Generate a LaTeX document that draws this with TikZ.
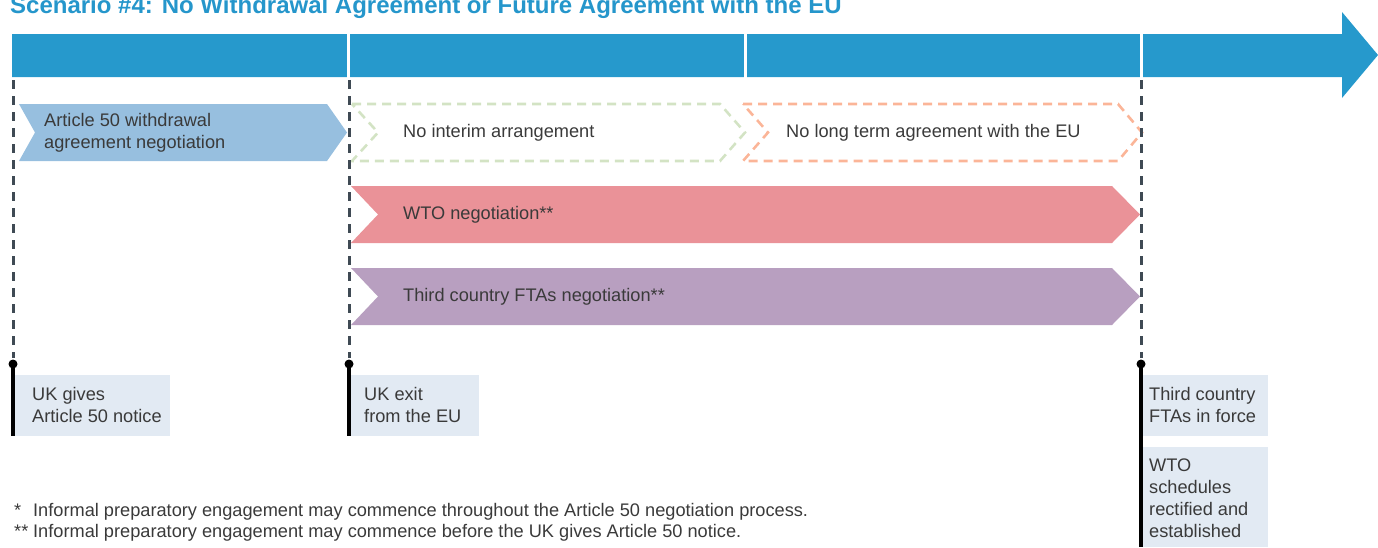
\documentclass[tikz,border=0pt]{standalone}
\usepackage{fontspec}
\setmainfont{Liberation Sans}
\definecolor{barblue}{HTML}{2699CC}
\definecolor{titleblue}{HTML}{2596CB}
\definecolor{artblue}{HTML}{97BFDF}
\definecolor{dgreen}{HTML}{D3E3C4}
\definecolor{dorange}{HTML}{FBB598}
\definecolor{wtopink}{HTML}{EA9298}
\definecolor{ftapurple}{HTML}{B89FC0}
\definecolor{lblfill}{HTML}{E2EAF3}
\definecolor{txtgray}{HTML}{3A3A3A}
\definecolor{vline}{HTML}{3F4A54}
\begin{document}
\begin{tikzpicture}[x=1pt,y=-1pt,
  txt/.style={font=\fontsize{18.2}{22}\selectfont, text=txtgray, inner sep=0pt, align=left, anchor=west},
  foot/.style={font=\fontsize{18.2}{21}\selectfont, text=txtgray, inner sep=0pt, anchor=base west},
  vdash/.style={draw=vline, line width=3pt, dash pattern=on 9pt off 7pt},
  vsolid/.style={draw=black, line width=3.5pt},
  chevdash/.style={line width=2.6pt, dash pattern=on 9pt off 6pt},
  lblbox/.style={fill=lblfill},
]
\useasboundingbox (0,0) rectangle (1378,547);

% title
\node[anchor=base west, inner sep=0pt, font=\bfseries\fontsize{24}{28}\selectfont, text=titleblue] (title) at (10,13)
  {Scenario \#4: No Withdrawal Agreement or Future Agreement with the EU};

% timeline arrow
\fill[barblue] (12,34) -- (1342,34) -- (1342,12) -- (1378,55) -- (1342,98) -- (1342,77) -- (12,77) -- cycle;
\foreach \gx in {348.5,745.5,1141.5}{
  \draw[white, line width=2.5pt] (\gx,33) -- (\gx,78);
}

% chevrons
\fill[artblue] (19,104) -- (327,104) -- (347,132.5) -- (327,161) -- (19,161) -- (35,132.5) -- cycle;
\node[txt] (art) at (44,133) {Article 50 withdrawal\\agreement negotiation};

\draw[dgreen, chevdash] (352,104) -- (720,104) -- (745,132.5) -- (720,161) -- (352,161) -- (378,132.5) -- cycle;
\node[txt] (interim) at (403,132.5) {No interim arrangement};

\draw[dorange, chevdash] (743,104) -- (1118,104) -- (1142,132.5) -- (1118,161) -- (743,161) -- (768,132.5) -- cycle;
\node[txt] (longterm) at (786,132.5) {No long term agreement with the EU};

\fill[wtopink] (351,186) -- (1112,186) -- (1140,214.5) -- (1112,243) -- (351,243) -- (378,214.5) -- cycle;
\node[txt] (wto) at (403,214.5) {WTO negotiation**};

\fill[ftapurple] (351,268) -- (1112,268) -- (1140,296.5) -- (1112,325) -- (351,325) -- (378,296.5) -- cycle;
\node[txt] (fta) at (403,296.5) {Third country FTAs negotiation**};

% vertical milestone lines
\coordinate (a1) at (13,80);   \coordinate (a2) at (13,358);
\coordinate (b1) at (349,80);  \coordinate (b2) at (349,358);
\coordinate (c1) at (1141,80); \coordinate (c2) at (1141,358);
\coordinate (a3) at (13,364);  \coordinate (a4) at (13,436);
\coordinate (b3) at (349,364); \coordinate (b4) at (349,436);
\coordinate (c3) at (1141,364); \coordinate (c4) at (1141,547);
\draw[vdash] (a1) -- (a2);
\draw[vdash] (b1) -- (b2);
\draw[vdash] (c1) -- (c2);

% label boxes
\fill[lblbox] (15,375) rectangle (170,436);
\fill[lblbox] (351,375) rectangle (479,436);
\fill[lblbox] (1143,375) rectangle (1268,436);
\fill[lblbox] (1143,447) rectangle (1268,547);

\draw[vsolid] (a3) -- (a4);
\draw[vsolid] (b3) -- (b4);
\draw[vsolid] (c3) -- (c4);
\fill[black] (a3) circle (4.5pt);
\fill[black] (b3) circle (4.5pt);
\fill[black] (c3) circle (4.5pt);

\node[txt] (l1) at (32,405) {UK gives\\Article 50 notice};
\node[txt] (l2) at (364,405) {UK exit\\from the EU};
\node[txt] (l3) at (1149,405) {Third country\\FTAs in force};
\node[txt] (l4) at (1149,498) {WTO\\schedules\\rectified and\\established};

% footnotes
\node[foot] (f1) at (14,516) {\makebox[19pt][l]{*}Informal preparatory engagement may commence throughout the Article 50 negotiation process.};
\node[foot] (f2) at (14,537) {\makebox[19pt][l]{**}Informal preparatory engagement may commence before the UK gives Article 50 notice.};
\end{tikzpicture}
\end{document}
